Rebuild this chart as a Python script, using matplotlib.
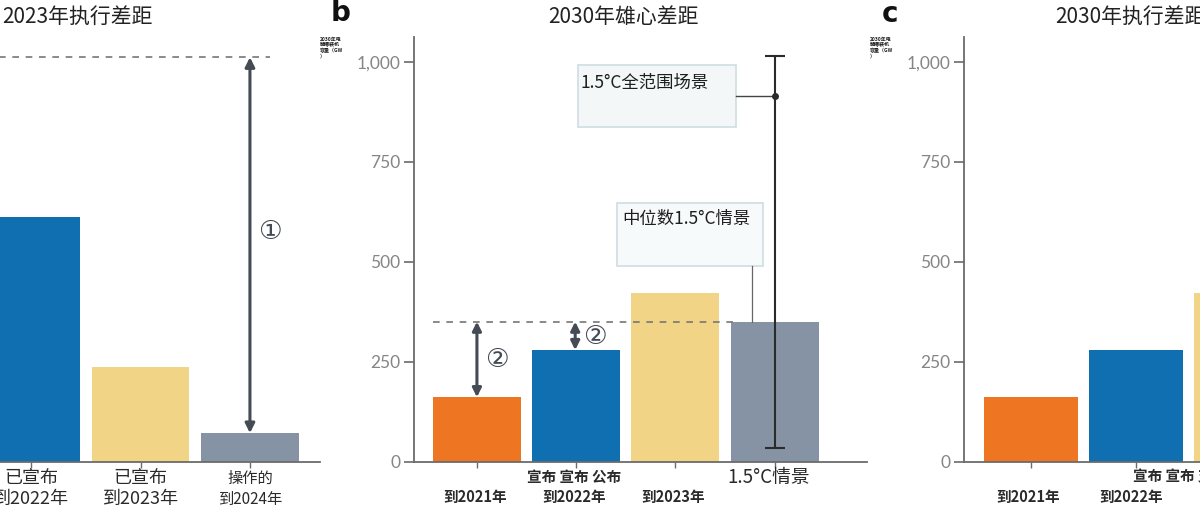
import matplotlib
matplotlib.use("Agg")
import matplotlib.pyplot as plt
from matplotlib.patches import Rectangle
from matplotlib.transforms import blended_transform_factory

plt.rcParams['font.family'] = ['Noto Sans CJK SC', 'DejaVu Sans']

# ---------------- data ----------------
a_values = [612, 237, 71]
a_colors = ['#0F6FB0', '#F1D486', '#8693A5']
a_labels_top = ['已宣布', '已宣布', '操作的']
a_labels_bot = ['到2022年', '到2023年', '到2024年']
a_target = 1012

b_values = [161, 279, 421, 350]
b_colors = ['#EE7623', '#0F6FB0', '#F1D486', '#8693A5']
b_labels_top = ['', '宣布 宣布 公布', '', '']
b_labels_bot = ['到2021年', '到2022年', '到2023年', '']
b_scenario_label = '1.5°C情景'
b_err_low, b_err_high, b_full_range_dot = 33, 1015, 915
b_median = 350

c_values = [161, 279, 421]
c_colors = ['#EE7623', '#0F6FB0', '#F1D486']
c_labels_top = ['', '宣布 宣布 支持', '']
c_labels_bot = ['到2021年', '到2022年', '']

yticks = [0, 250, 500, 750, 1000]
ytick_labels = ['0', '250', '500', '750', '1,000']
ylabel_small = '2030年电\n解槽装机\n容量（GW\n）'

titles = ['2023年执行差距', '2030年雄心差距', '2030年执行差距']

# ---------------- figure ----------------
W, H = 1200, 511
fig = plt.figure(figsize=(12, 5.11), dpi=100)

y0_px, ytop_px = 461.5, 37
YMAX = (y0_px - ytop_px) / 0.3995

def add_ax(left_px, right_px):
    return fig.add_axes([left_px / W, 1 - y0_px / H, (right_px - left_px) / W,
                         (y0_px - ytop_px) / H])

spine_c = '#6b6b6b'
tick_c = '#858585'
lab_c = '#2a2a2a'

def style(ax, show_ylabels=True):
    for s in ['top', 'right']:
        ax.spines[s].set_visible(False)
    ax.spines['left'].set_color(spine_c)
    ax.spines['bottom'].set_color(spine_c)
    ax.spines['left'].set_linewidth(1.3)
    ax.spines['bottom'].set_linewidth(1.3)
    ax.set_ylim(0, YMAX)
    ax.set_yticks(yticks)
    if show_ylabels:
        ax.set_yticklabels(ytick_labels, fontsize=12.5, color=tick_c,
                           family=['Lato', 'DejaVu Sans'])
    else:
        ax.set_yticklabels([])
    ax.tick_params(axis='y', length=7, width=1.2, color=spine_c, pad=3)
    ax.tick_params(axis='x', length=4, width=1.0, color=spine_c, labelbottom=False)

fy = lambda py: 1 - py / H

# ---------------- panel a ----------------
axa = add_ax(-39, 320)
style(axa, show_ylabels=False)
axa.set_xlim(-0.64, 2.64)
xa = list(range(len(a_values)))
axa.bar(xa, a_values, width=0.895, color=a_colors)
axa.set_xticks(xa)
axa.plot([-1, 2.18], [a_target, a_target], ls=(0, (4, 4)), color='#777777', lw=1.2,
         clip_on=False)
axa.annotate('', xy=(2, a_values[2]), xytext=(2, a_target),
             arrowprops=dict(arrowstyle='<|-|>', color='#444b55', lw=2.2,
                             mutation_scale=14, shrinkA=0, shrinkB=0))
axa.text(2.18, 574, '①', fontsize=19, color='#444b55', ha='center', va='center',
         family=['DejaVu Sans'])
tra = blended_transform_factory(axa.transData, fig.transFigure)
for i in xa:
    fs = 11 if i == 2 else 13
    axa.text(i, fy(478), a_labels_top[i], transform=tra, ha='center', va='center',
             fontsize=fs, color=lab_c, fontweight='medium')
    axa.text(i, fy(499), a_labels_bot[i], transform=tra, ha='center', va='center',
             fontsize=fs, color=lab_c, fontweight='medium')

# ---------------- panel b ----------------
axb = add_ax(414, 867)
style(axb)
axb.set_xlim(-0.634, 3.93)
xb = list(range(len(b_values)))
axb.bar(xb, b_values, width=0.886, color=b_colors)
axb.set_xticks(xb)
axb.errorbar([xb[3]], [b_full_range_dot],
             yerr=[[b_full_range_dot - b_err_low], [b_err_high - b_full_range_dot]],
             fmt='o', ms=4, color='#2b2b2b', ecolor='#2b2b2b', elinewidth=1.5,
             capsize=7, capthick=1.5)
axb.plot([-0.44, 2.58], [b_median, b_median], ls=(0, (4, 4)), color='#777777', lw=1.2)
# gap arrows
for xi, xa_pos, ya_pos in [(0, 0.2, 254), (0.99, 1.19, 312)]:
    idx = int(round(xi))
    axb.annotate('', xy=(xi, b_values[idx]), xytext=(xi, b_median),
                 arrowprops=dict(arrowstyle='<|-|>', color='#444b55', lw=2.2,
                                 mutation_scale=13, shrinkA=0, shrinkB=0))
    axb.text(xa_pos, ya_pos, '②', fontsize=19, color='#444b55', ha='center',
             va='center', family=['DejaVu Sans'])
# annotation boxes
axb.add_patch(Rectangle((1.017, 837), 2.608 - 1.017, 992 - 837, facecolor='#f3f7f8',
                        edgecolor='#cfdde2', lw=1.2))
axb.text(1.04, 947, '1.5°C全范围场景', fontsize=12.5, color='#1e1e1e', va='center',
         ha='left', fontweight='medium')
axb.plot([2.608, 3], [b_full_range_dot, b_full_range_dot], color='#444444', lw=1.0)
axb.add_patch(Rectangle((1.41, 489), 2.88 - 1.41, 647 - 489, facecolor='#f7fafb',
                        edgecolor='#cfdde2', lw=1.2))
axb.text(1.46, 606, '中位数1.5°C情景', fontsize=12.5, color='#1e1e1e', va='center',
         ha='left', fontweight='medium')
axb.plot([2.77, 2.77], [489, b_median], color='#666666', lw=0.9)
trb = blended_transform_factory(axb.transData, fig.transFigure)
for i in xb:
    if b_labels_top[i]:
        axb.text(i - 0.02, fy(477), b_labels_top[i], transform=trb, ha='center',
                 va='center', fontsize=10.5, color=lab_c, fontweight='bold')
    if b_labels_bot[i]:
        axb.text(i - 0.02, fy(497), b_labels_bot[i], transform=trb, ha='center',
                 va='center', fontsize=10.5, color=lab_c, fontweight='bold')
axb.text(2.94, fy(478), b_scenario_label, transform=trb, ha='center', va='center',
         fontsize=13.5, color=lab_c)

# ---------------- panel c ----------------
axc = add_ax(964, 1330)
style(axc)
axc.set_xlim(-0.64, (1330 - 1031) / 105)
xc = list(range(len(c_values)))
axc.bar(xc, c_values, width=0.89, color=c_colors)
axc.set_xticks(xc)
trc = blended_transform_factory(axc.transData, fig.transFigure)
axc.text(-0.03, fy(497), c_labels_bot[0], transform=trc, ha='center', va='center',
         fontsize=10.5, color=lab_c, fontweight='bold')
axc.text(0.97, fy(477), c_labels_top[1], transform=trc, ha='left', va='center',
         fontsize=10.5, color=lab_c, fontweight='bold')
axc.text(0.95, fy(497), c_labels_bot[1], transform=trc, ha='center', va='center',
         fontsize=10.5, color=lab_c, fontweight='bold')

# ---------------- titles, letters, small y labels ----------------
fig.text(2 / W, fy(17), titles[0], ha='left', va='center', fontsize=15, color='#222222',
         fontweight='medium')
fig.text(623 / W, fy(17), titles[1], ha='center', va='center', fontsize=15,
         color='#222222', fontweight='medium')
fig.text(1055 / W, fy(17), titles[2], ha='left', va='center', fontsize=15,
         color='#222222', fontweight='medium')
fig.text(331 / W, fy(13), 'b', ha='left', va='center', fontsize=20, fontweight='bold',
         color='#111111', family=['DejaVu Sans'])
fig.text(882 / W, fy(14), 'c', ha='left', va='center', fontsize=20, fontweight='bold',
         color='#111111', family=['DejaVu Sans'])
for px in (320, 870):
    fig.text(px / W, fy(37), ylabel_small, ha='left', va='top', fontsize=3.6,
             color='#222222', linespacing=1.1, fontweight='bold')

fig.savefig('out.png', dpi=100)
